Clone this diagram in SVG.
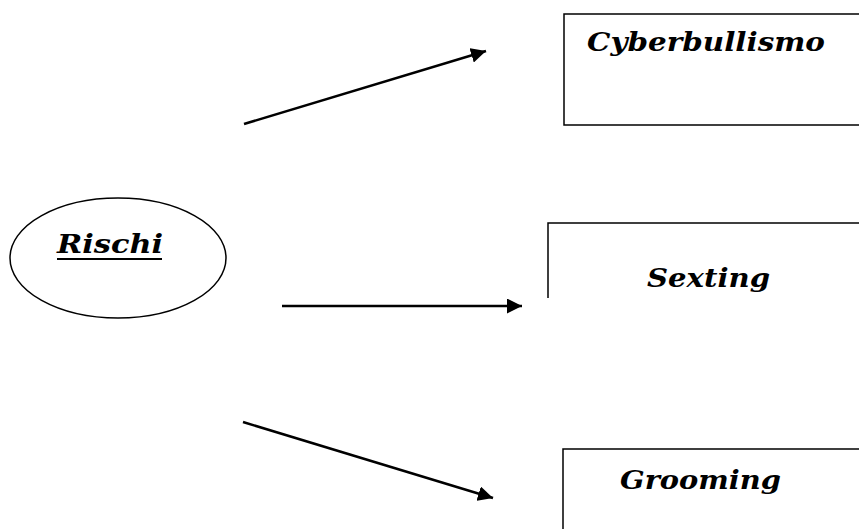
<svg xmlns="http://www.w3.org/2000/svg" width="859" height="529" viewBox="0 0 859 529">
<defs>
<style>
.lbl{font-family:"DejaVu Serif","Liberation Serif",serif;font-weight:bold;font-style:italic;font-size:26px;fill:#000}
.box{fill:none;stroke:#000;stroke-width:1.5}
.con{stroke:#000;stroke-width:2.5;fill:none}
</style>
<marker id="ah" viewBox="0 0 10 10" refX="10" refY="5" markerWidth="6" markerHeight="6" markerUnits="strokeWidth" orient="auto">
<path d="M0,0 L10,5 L0,10 z" fill="#000"/>
</marker>
</defs>
<rect width="859" height="529" fill="#fff"/>
<g id="rischi">
<ellipse cx="118" cy="258" rx="108" ry="60" fill="none" stroke="#000" stroke-width="1.5"/>
<text class="lbl" x="57" y="253" textLength="106" lengthAdjust="spacingAndGlyphs" font-size="29">Rischi</text>
<line x1="57" y1="259" x2="162" y2="259" stroke="#000" stroke-width="2"/>
</g>
<g id="cyberbullismo">
<path class="box" d="M859,14 H564 V125 H859"/>
<text class="lbl" x="587" y="51" textLength="238" lengthAdjust="spacingAndGlyphs">Cyberbullismo</text>
</g>
<g id="sexting">
<path class="box" d="M859,223 H548 V298"/>
<text class="lbl" x="647" y="287" textLength="123" lengthAdjust="spacingAndGlyphs">Sexting</text>
</g>
<g id="grooming">
<path class="box" d="M859,449 H563 V529"/>
<text class="lbl" x="620" y="489" textLength="161" lengthAdjust="spacingAndGlyphs">Grooming</text>
</g>
<g id="connectors">
<line class="con" x1="244" y1="124" x2="486" y2="51" marker-end="url(#ah)"/>
<line class="con" x1="282" y1="306" x2="522" y2="306" marker-end="url(#ah)"/>
<line class="con" x1="243" y1="422" x2="493" y2="498" marker-end="url(#ah)"/>
</g>
</svg>
